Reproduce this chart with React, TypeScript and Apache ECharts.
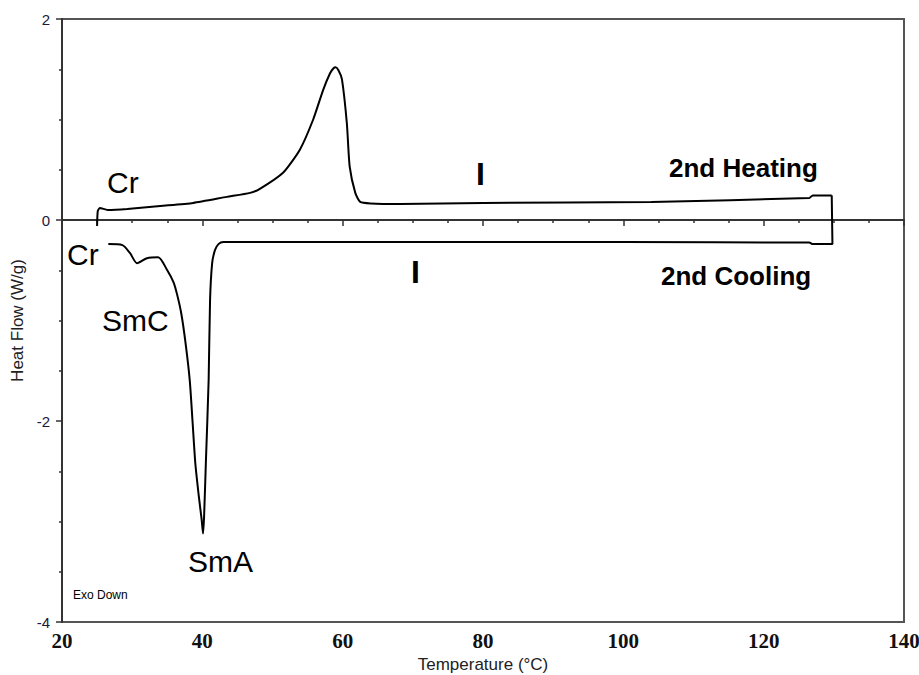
import React, { useEffect, useRef } from "react";
import * as echarts from "echarts";

const heatingT = [25.0, 25.1, 25.4, 26.5, 29.3, 34.0, 38.7, 43.5, 46.8, 48.2, 51.5, 53.9, 55.8, 57.2, 58.2, 58.7, 59.0, 59.4, 59.9, 60.6, 61.0, 61.8, 62.5, 64.0, 68.2, 80.0, 104.0, 126.5, 127.0, 129.7];
const heatingV = [-0.06, 0.09, 0.12, 0.10, 0.11, 0.14, 0.17, 0.23, 0.27, 0.31, 0.47, 0.70, 1.00, 1.29, 1.46, 1.51, 1.52, 1.49, 1.40, 0.96, 0.53, 0.27, 0.18, 0.165, 0.16, 0.17, 0.18, 0.22, 0.245, 0.245];

const coolingT = [129.7, 129.8, 127.0, 126.5, 100.0, 70.0, 50.0, 43.0, 42.3, 41.8, 41.4, 41.1, 40.9, 40.5, 40.25, 40.1, 39.9, 39.5, 39.0, 38.6, 38.2, 37.6, 37.0, 36.4, 35.9, 35.0, 33.7, 32.1, 30.7, 29.7, 28.6, 26.6];
const coolingV = [0.245, -0.24, -0.24, -0.225, -0.22, -0.22, -0.22, -0.22, -0.24, -0.30, -0.43, -0.80, -1.59, -2.42, -2.95, -3.12, -2.98, -2.75, -2.42, -2.0, -1.59, -1.22, -0.93, -0.74, -0.62, -0.50, -0.37, -0.38, -0.43, -0.33, -0.25, -0.24];

const xTicks = { min: 20, max: 140, interval: 20 };
const yTicks = { min: -4, max: 2, interval: 2 };

const annotations = [
  { text: "Cr", x: 107, y: 182, size: 30, weight: "normal" },
  { text: "Cr", x: 67, y: 254, size: 30, weight: "normal" },
  { text: "SmC", x: 102, y: 320, size: 30, weight: "normal" },
  { text: "SmA", x: 188, y: 561, size: 30, weight: "normal" },
  { text: "I", x: 476, y: 174, size: 32, weight: "bold" },
  { text: "I", x: 411, y: 272, size: 32, weight: "bold" },
  { text: "2nd Heating", x: 669, y: 168, size: 26, weight: "bold" },
  { text: "2nd Cooling", x: 661, y: 276, size: 26, weight: "bold" },
  { text: "Exo Down", x: 73, y: 595, size: 12, weight: "normal" },
];

export default function App() {
  const ref = useRef<HTMLDivElement>(null);
  useEffect(() => {
    if (!ref.current) return;
    const chart = echarts.init(ref.current, null, { renderer: "svg" });
    const heating = heatingT.map((t, i) => [t, heatingV[i]]);
    const cooling = coolingT.map((t, i) => [t, coolingV[i]]);
    chart.setOption({
      animation: false,
      backgroundColor: "#ffffff",
      grid: {
        left: 62,
        right: 15,
        top: 19,
        bottom: 53,
        outerBoundsMode: "none",
        containLabel: false,
        show: true,
        borderColor: "#555555",
        borderWidth: 2,
      },
      xAxis: {
        type: "value",
        min: xTicks.min,
        max: xTicks.max,
        interval: xTicks.interval,
        name: "Temperature (°C)",
        nameLocation: "middle",
        nameGap: 32,
        nameTextStyle: { fontFamily: "Liberation Sans", fontSize: 17, color: "#222" },
        axisLine: { show: true, lineStyle: { color: "#333", width: 2 } },
        axisTick: { show: true, length: 6, lineStyle: { color: "#333", width: 1.5 } },
        minorTick: { show: true, splitNumber: 4, length: 3, lineStyle: { color: "#333", width: 1.5 } },
        splitLine: { show: false },
        axisLabel: {
          margin: 8,
          fontFamily: "Liberation Serif",
          fontWeight: "bold",
          fontSize: 21,
          color: "#111",
        },
      },
      yAxis: {
        type: "value",
        min: yTicks.min,
        max: yTicks.max,
        interval: yTicks.interval,
        name: "Heat Flow (W/g)",
        nameLocation: "middle",
        nameGap: 36,
        nameTextStyle: { fontFamily: "Liberation Sans", fontSize: 17, color: "#222" },
        axisLine: { show: true, lineStyle: { color: "#333", width: 2 } },
        axisTick: { show: true, length: 6, lineStyle: { color: "#333", width: 1.5 } },
        minorTick: { show: true, splitNumber: 4, length: 3, lineStyle: { color: "#333", width: 1.5 } },
        splitLine: { show: false },
        axisLabel: {
          margin: 12,
          fontFamily: "Liberation Sans",
          fontSize: 15,
          color: "#1a1a3a",
        },
      },
      series: [
        {
          name: "2nd Heating",
          type: "line",
          data: heating,
          showSymbol: false,
          smooth: 0.2,
          lineStyle: { color: "#000", width: 2 },
        },
        {
          name: "2nd Cooling",
          type: "line",
          data: cooling,
          showSymbol: false,
          smooth: 0.25,
          lineStyle: { color: "#000", width: 2 },
        },
      ],
      graphic: annotations.map((a) => ({
        type: "text",
        x: a.x,
        y: a.y,
        style: {
          text: a.text,
          font: `${a.weight} ${a.size}px "Liberation Sans", Arial, sans-serif`,
          fill: "#000",
          textAlign: "left",
          textVerticalAlign: "middle",
        },
      })),
    });
    return () => chart.dispose();
  }, []);
  return (
    <div
      ref={ref}
      style={{ position: "fixed", left: 0, top: 0, width: 919, height: 675 }}
    />
  );
}
